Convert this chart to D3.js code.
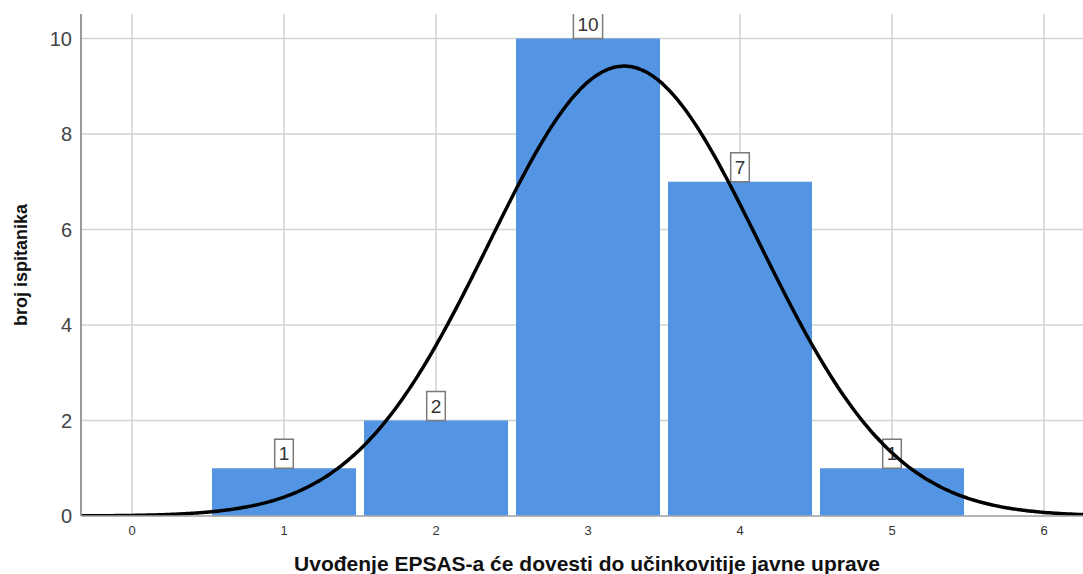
<!DOCTYPE html>
<html>
<head>
<meta charset="utf-8">
<script src="https://cdn.jsdelivr.net/npm/d3@7"></script>
<style>
  body { margin: 0; background: #fff; }
  svg { display: block; font-family: Arial, "Liberation Sans", sans-serif; }
</style>
</head>
<body>
<svg id="chart" width="1083" height="574"></svg>
<script>
// podaci
var categories = [1, 2, 3, 4, 5]
var counts = [1, 2, 10, 7, 1]
var yTicks = [0, 2, 4, 6, 8, 10]
var xTicks = [0, 1, 2, 3, 4, 5, 6]
var xTitle = "Uvođenje EPSAS-a će dovesti do učinkovitije javne uprave"
var yTitle = "broj ispitanika"

var svg = d3.select("#chart")
var pLeft = 81, pRight = 1083, pTop = 14, pBottom = 516

var x = d3.scaleLinear().domain([0, 6]).range([132, 1044])
var y = d3.scaleLinear().domain([0, 10]).range([pBottom, 38.5])
var unit = x(1) - x(0)
var barW = unit - 8

// normalna krivulja iz podataka
var n = d3.sum(counts)
var mean = d3.sum(categories, function(c, i) { return c * counts[i] }) / n
var sd = Math.sqrt(d3.sum(categories, function(c, i) { return counts[i] * (c - mean) * (c - mean) }) / (n - 1))

svg.append("defs").append("clipPath").attr("id", "plot")
  .append("rect").attr("x", pLeft).attr("y", pTop).attr("width", pRight - pLeft).attr("height", pBottom - pTop)

// mreza
svg.selectAll("line.hgrid").data(yTicks).enter().append("line")
  .attr("class", "hgrid")
  .attr("x1", pLeft).attr("x2", pRight)
  .attr("y1", function(d) { return y(d) }).attr("y2", function(d) { return y(d) })
  .style("stroke", "#d2d2d2").style("stroke-width", 1.5)

svg.selectAll("line.vgrid").data(xTicks).enter().append("line")
  .attr("class", "vgrid")
  .attr("x1", function(d) { return x(d) }).attr("x2", function(d) { return x(d) })
  .attr("y1", pTop).attr("y2", pBottom)
  .style("stroke", "#d2d2d2").style("stroke-width", 1.5)

var g = svg.append("g").attr("clip-path", "url(#plot)")

// stupci
g.selectAll("rect.bar").data(counts).enter().append("rect")
  .attr("class", "bar")
  .attr("x", function(d, i) { return x(categories[i]) - barW / 2 })
  .attr("y", function(d) { return y(d) })
  .attr("width", barW)
  .attr("height", function(d) { return pBottom - y(d) })
  .style("fill", "#5394e3")

// oznake
var lab = g.selectAll("g.lab").data(counts).enter().append("g")
  .attr("class", "lab")
  .attr("transform", function(d, i) { return "translate(" + x(categories[i]) + "," + y(d) + ")" })

lab.append("rect")
  .attr("x", function(d) { return -(String(d).length * 10.6 + 8) / 2 })
  .attr("y", -29)
  .attr("width", function(d) { return String(d).length * 10.6 + 8 })
  .attr("height", 29)
  .style("fill", "#fff").style("stroke", "#7a7a7a").style("stroke-width", 1.5)

lab.append("text")
  .attr("x", 0).attr("y", -8)
  .attr("text-anchor", "middle")
  .style("font-size", "19px").style("fill", "#333")
  .text(function(d) { return d })

// krivulja
var pts = d3.range(-0.4, 6.35, 0.02)
var line = d3.line()
  .x(function(d) { return x(d) })
  .y(function(d) { return y(n * Math.exp(-0.5 * Math.pow((d - mean) / sd, 2)) / (sd * Math.sqrt(2 * Math.PI))) })
  .curve(d3.curveBasis)

g.append("path").datum(pts)
  .attr("d", line)
  .style("fill", "none").style("stroke", "#000").style("stroke-width", 3.5)

// osi
svg.append("line").attr("x1", pLeft).attr("x2", pLeft).attr("y1", pTop).attr("y2", pBottom)
  .style("stroke", "#999").style("stroke-width", 2)
svg.append("line").attr("x1", pLeft).attr("x2", pRight).attr("y1", pBottom).attr("y2", pBottom)
  .style("stroke", "#aaa").style("stroke-width", 1.5)

svg.selectAll("text.ytick").data(yTicks).enter().append("text")
  .attr("class", "ytick")
  .attr("x", 72).attr("y", function(d) { return y(d) + 7 })
  .attr("text-anchor", "end")
  .style("font-size", "20px").style("fill", "#444")
  .text(function(d) { return d })

svg.selectAll("text.xtick").data(xTicks).enter().append("text")
  .attr("class", "xtick")
  .attr("x", function(d) { return x(d) }).attr("y", 535)
  .attr("text-anchor", "middle")
  .style("font-size", "13px").style("fill", "#333")
  .text(function(d) { return d })

svg.append("text")
  .attr("x", 587).attr("y", 571)
  .attr("text-anchor", "middle")
  .style("font-size", "21px").style("font-weight", "bold").style("fill", "#111")
  .text(xTitle)

svg.append("text")
  .attr("transform", "translate(27,265) rotate(-90)")
  .attr("text-anchor", "middle")
  .style("font-size", "18px").style("font-weight", "bold").style("fill", "#111")
  .text(yTitle)
</script>
</body>
</html>
